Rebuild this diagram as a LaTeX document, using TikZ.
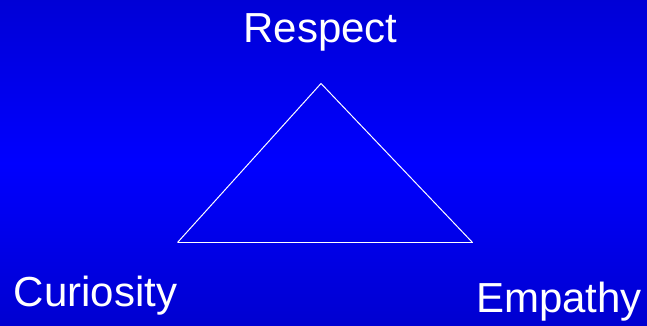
\documentclass[tikz,border=0pt]{standalone}
\usepackage{fontspec}
\setmainfont{Liberation Sans}
\definecolor{bgtop}{RGB}{0,0,214}
\definecolor{bgmid}{RGB}{0,0,255}
\definecolor{bgbot}{RGB}{0,0,208}
\begin{document}
\begin{tikzpicture}[x=1pt,y=1pt,
  lbl/.style={text=white,font=\fontsize{42}{48}\selectfont,inner sep=0pt},
  edge/.style={draw=white,line width=1pt,line join=miter}]
\useasboundingbox (0,0) rectangle (647,326);
\shade[top color=bgtop,bottom color=bgbot,middle color=bgmid] (0,0) rectangle (647,326);
\coordinate (top) at (321,242.5);
\coordinate (left) at (177.5,83.5);
\coordinate (right) at (472.5,83.5);
\draw[edge] (left) -- (top) -- (right);
\draw[edge,line width=1.5pt] (left) -- (right);
\node[lbl,anchor=base] (respect) at (320.5,283.3) {Respect};
\node[lbl,anchor=base west] (curiosity) at (13.5,19.3) {Curiosity};
\node[lbl,anchor=base west] (empathy) at (476,13.7) {Empathy};
\end{tikzpicture}
\end{document}
